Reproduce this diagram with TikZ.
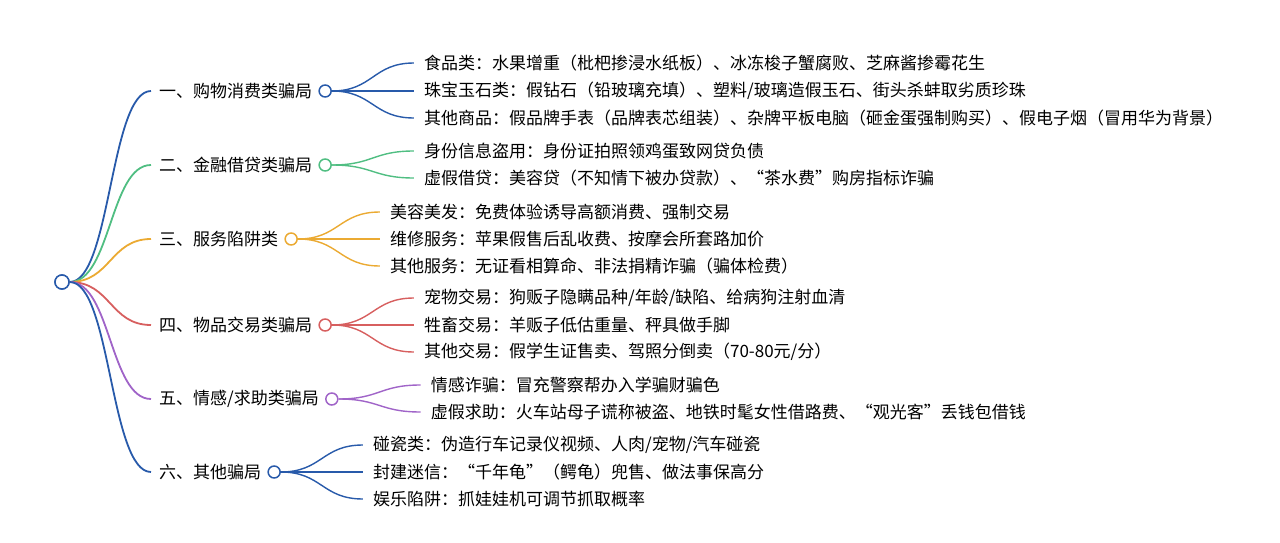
\documentclass[tikz,border=0pt]{standalone}
\usepackage{fontspec}
\setmainfont{Noto Sans CJK SC}
\usetikzlibrary{positioning,calc}
\definecolor{mmBlue}{RGB}{40,90,170}
\definecolor{mmGreen}{RGB}{80,190,130}
\definecolor{mmOrange}{RGB}{235,170,50}
\definecolor{mmRed}{RGB}{215,95,95}
\definecolor{mmPurple}{RGB}{160,100,200}

\begin{document}
\begin{tikzpicture}[
    x=1pt, y=-1pt,
    dot/.style={circle, draw, line width=1.5pt, fill=white, minimum size=12pt, inner sep=0pt},
    rootdot/.style={dot, minimum size=14pt},
    topic/.style={anchor=west, inner xsep=8pt, inner ysep=2pt, font=\fontsize{17}{20}\selectfont},
    leaf/.style={anchor=west, inner xsep=10pt, inner ysep=2pt, font=\fontsize{17}{20}\selectfont},
    trunk/.style={line width=1.8pt},
    twig/.style={line width=1.4pt}
]
  \useasboundingbox (0,0) rectangle (1280,543);

  \node[rootdot, draw=mmBlue] (root) at (62,282) {};

  % first level
  \node[topic] (tA) at (151,91) {一、购物消费类骗局};
  \node[topic] (tB) at (151,165) {二、金融借贷类骗局};
  \node[topic] (tC) at (151,239) {三、服务陷阱类};
  \node[topic] (tD) at (151,325) {四、物品交易类骗局};
  \node[topic] (tE) at (151,399) {五、情感/求助类骗局};
  \node[topic] (tF) at (151,472) {六、其他骗局};

  \draw[trunk, mmBlue] (root.east) .. controls +(41,0) and +(-41,0) .. (tA.west);
  \draw[trunk, mmGreen] (root.east) .. controls +(41,0) and +(-41,0) .. (tB.west);
  \draw[trunk, mmOrange] (root.east) .. controls +(41,0) and +(-41,0) .. (tC.west);
  \draw[trunk, mmRed] (root.east) .. controls +(41,0) and +(-41,0) .. (tD.west);
  \draw[trunk, mmPurple] (root.east) .. controls +(41,0) and +(-41,0) .. (tE.west);
  \draw[trunk, mmBlue] (root.east) .. controls +(41,0) and +(-41,0) .. (tF.west);
  \node[rootdot, draw=mmBlue] at (root) {};

  % second level
  \node[dot, draw=mmBlue, right=-2pt of tA] (cA) {};
  \node[leaf, right=82pt of cA, yshift=28pt] (a1) {食品类：水果增重（枇杷掺浸水纸板）、冰冻梭子蟹腐败、芝麻酱掺霉花生};
  \node[leaf, right=82pt of cA] (a2) {珠宝玉石类：假钻石（铅玻璃充填）、塑料/玻璃造假玉石、街头杀蚌取劣质珍珠};
  \node[leaf, right=82pt of cA, yshift=-27pt] (a3) {其他商品：假品牌手表（品牌表芯组装）、杂牌平板电脑（砸金蛋强制购买）、假电子烟（冒用华为背景）};
  \draw[twig, mmBlue] (cA.east) .. controls +(41,0) and +(-41,0) .. (a1.west);
  \draw[twig, mmBlue] (cA.east) .. controls +(41,0) and +(-41,0) .. (a2.west);
  \draw[twig, mmBlue] (cA.east) .. controls +(41,0) and +(-41,0) .. (a3.west);

  \node[dot, draw=mmGreen, right=-2pt of tB] (cB) {};
  \node[leaf, right=82pt of cB, yshift=14pt] (b1) {身份信息盗用：身份证拍照领鸡蛋致网贷负债};
  \node[leaf, right=82pt of cB, yshift=-13pt] (b2) {虚假借贷：美容贷（不知情下被办贷款）、“茶水费”购房指标诈骗};
  \draw[twig, mmGreen] (cB.east) .. controls +(41,0) and +(-41,0) .. (b1.west);
  \draw[twig, mmGreen] (cB.east) .. controls +(41,0) and +(-41,0) .. (b2.west);

  \node[dot, draw=mmOrange, right=-2pt of tC] (cC) {};
  \node[leaf, right=82pt of cC, yshift=27pt] (c1) {美容美发：免费体验诱导高额消费、强制交易};
  \node[leaf, right=82pt of cC] (c2) {维修服务：苹果假售后乱收费、按摩会所套路加价};
  \node[leaf, right=82pt of cC, yshift=-27pt] (c3) {其他服务：无证看相算命、非法捐精诈骗（骗体检费）};
  \draw[twig, mmOrange] (cC.east) .. controls +(41,0) and +(-41,0) .. (c1.west);
  \draw[twig, mmOrange] (cC.east) .. controls +(41,0) and +(-41,0) .. (c2.west);
  \draw[twig, mmOrange] (cC.east) .. controls +(41,0) and +(-41,0) .. (c3.west);

  \node[dot, draw=mmRed, right=-2pt of tD] (cD) {};
  \node[leaf, right=82pt of cD, yshift=27pt] (d1) {宠物交易：狗贩子隐瞒品种/年龄/缺陷、给病狗注射血清};
  \node[leaf, right=82pt of cD] (d2) {牲畜交易：羊贩子低估重量、秤具做手脚};
  \node[leaf, right=82pt of cD, yshift=-27pt] (d3) {其他交易：假学生证售卖、驾照分倒卖（70-80元/分）};
  \draw[twig, mmRed] (cD.east) .. controls +(41,0) and +(-41,0) .. (d1.west);
  \draw[twig, mmRed] (cD.east) .. controls +(41,0) and +(-41,0) .. (d2.west);
  \draw[twig, mmRed] (cD.east) .. controls +(41,0) and +(-41,0) .. (d3.west);

  \node[dot, draw=mmPurple, right=-2pt of tE] (cE) {};
  \node[leaf, right=82pt of cE, yshift=14pt] (e1) {情感诈骗：冒充警察帮办入学骗财骗色};
  \node[leaf, right=82pt of cE, yshift=-13pt] (e2) {虚假求助：火车站母子谎称被盗、地铁时髦女性借路费、“观光客”丢钱包借钱};
  \draw[twig, mmPurple] (cE.east) .. controls +(41,0) and +(-41,0) .. (e1.west);
  \draw[twig, mmPurple] (cE.east) .. controls +(41,0) and +(-41,0) .. (e2.west);

  \node[dot, draw=mmBlue, right=-2pt of tF] (cF) {};
  \node[leaf, right=82pt of cF, yshift=27pt] (f1) {碰瓷类：伪造行车记录仪视频、人肉/宠物/汽车碰瓷};
  \node[leaf, right=82pt of cF] (f2) {封建迷信：“千年龟”（鳄龟）兜售、做法事保高分};
  \node[leaf, right=82pt of cF, yshift=-27pt] (f3) {娱乐陷阱：抓娃娃机可调节抓取概率};
  \draw[twig, mmBlue] (cF.east) .. controls +(41,0) and +(-41,0) .. (f1.west);
  \draw[twig, mmBlue] (cF.east) .. controls +(41,0) and +(-41,0) .. (f2.west);
  \draw[twig, mmBlue] (cF.east) .. controls +(41,0) and +(-41,0) .. (f3.west);
\end{tikzpicture}
\end{document}
